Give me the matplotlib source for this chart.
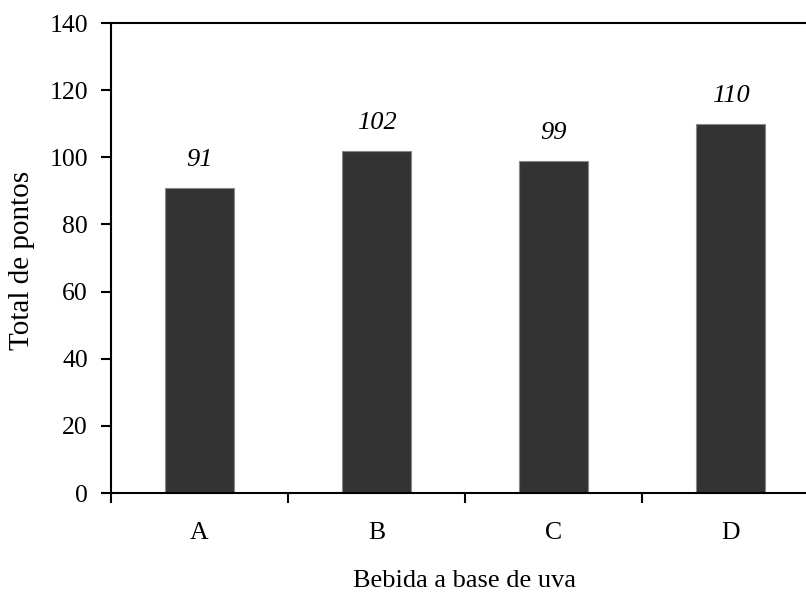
import matplotlib
matplotlib.use("Agg")
import matplotlib.pyplot as plt
import numpy as np

categories = ["A", "B", "C", "D"]
values = [91, 102, 99, 110]
yticks = [0, 20, 40, 60, 80, 100, 120, 140]

plt.rcParams['font.family'] = ['Liberation Serif', 'DejaVu Serif']

W, H = 806, 594
fig = plt.figure(figsize=(W/100, H/100), dpi=100)
left, right, top, bottom = 111, 819, 23, 493
ax = fig.add_axes([left/W, 1 - bottom/H, (right-left)/W, (bottom-top)/H])

x = np.arange(len(categories))
ax.bar(x, values, width=0.39, color="#333333", edgecolor="#888888", linewidth=0.8, zorder=2)
for xi, v in zip(x, values):
    ax.annotate(str(v), (xi, v), xytext=(0, 20), textcoords="offset points",
                ha="center", va="center", fontsize=19, style="italic")

ax.set_xlim(-0.5, len(categories) - 0.5)
ax.set_ylim(0, 140)
ax.set_yticks(yticks)
ax.set_yticklabels([str(t) for t in yticks], fontsize=18.5)
ax.set_xticks(np.arange(len(categories) + 1) - 0.5)
ax.set_xticklabels([])
ax.set_xticks(x, minor=True)
ax.set_xticklabels(categories, minor=True, fontsize=18.5)
ax.tick_params(axis="x", which="minor", length=0, pad=21)
ax.tick_params(axis="x", which="major", direction="out", length=7, width=1.5)
ax.tick_params(axis="y", direction="out", length=7, width=1.5, pad=9.5)

for s in ["left", "bottom", "top"]:
    ax.spines[s].set_linewidth(1.5)
ax.spines["right"].set_visible(False)

fig.text(22/W, 1 - 260/H, "Total de pontos", rotation=90, ha="center", va="center", fontsize=21)
fig.text(465/W, 1 - 587/H, "Bebida a base de uva", ha="center", va="baseline", fontsize=19)

fig.savefig("out.png", dpi=100)
